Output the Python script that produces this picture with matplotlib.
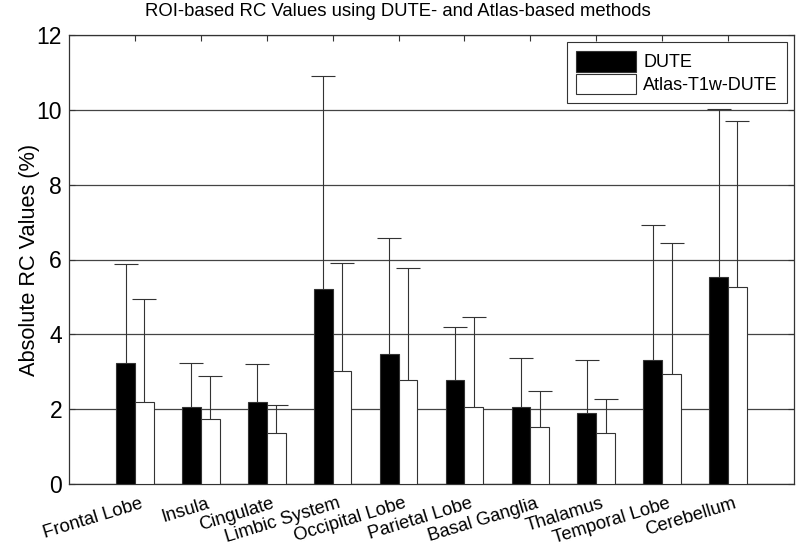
import matplotlib
matplotlib.use("Agg")
import matplotlib.pyplot as plt
import matplotlib.transforms as mtransforms
import numpy as np

plt.rcParams['font.family'] = ['Liberation Sans', 'DejaVu Sans']

categories = ["Frontal Lobe", "Insula", "Cingulate", "Limbic System", "Occipital Lobe",
              "Parietal Lobe", "Basal Ganglia", "Thalamus", "Temporal Lobe", "Cerebellum"]
dute = [3.24, 2.05, 2.19, 5.22, 3.48, 2.77, 2.05, 1.89, 3.32, 5.53]
atlas = [2.19, 1.73, 1.35, 3.02, 2.77, 2.05, 1.52, 1.35, 2.93, 5.27]
dute_err_top = [5.87, 3.24, 3.20, 10.90, 6.58, 4.19, 3.36, 3.32, 6.93, 10.03]
atlas_err_top = [4.95, 2.89, 2.10, 5.90, 5.77, 4.46, 2.48, 2.26, 6.43, 9.71]

dute_err = [t - v for t, v in zip(dute_err_top, dute)]
atlas_err = [t - v for t, v in zip(atlas_err_top, atlas)]

fig = plt.figure(figsize=(8, 5.51), dpi=100)
ax = fig.add_axes([69/800, 1 - 484/551, (794-69)/800, (484-35)/551])

x = np.arange(1, len(categories) + 1)
w = 0.285
edge = '#333333'
ax.bar(x - w/2, dute, w, color='black', edgecolor=edge, linewidth=0.8, label='DUTE', zorder=3)
ax.bar(x + w/2, atlas, w, color='white', edgecolor=edge, linewidth=0.8, label='Atlas-T1w-DUTE', zorder=3)
for xs, vals, errs in [(x - w/2, dute, dute_err), (x + w/2, atlas, atlas_err)]:
    eb = ax.errorbar(xs, vals, yerr=[np.zeros(len(vals)), errs], fmt='none',
                     ecolor=edge, elinewidth=0.8, capsize=8.5, capthick=0.8, zorder=2.5)
    for cl in eb[1]:
        if np.allclose(cl.get_ydata(), vals):
            cl.set_visible(False)

ax.set_xlim(0, 11)
ax.set_ylim(0, 12)
ax.set_yticks(np.arange(0, 13, 2))
ax.set_xticks(x)
ax.set_xticklabels(categories, rotation=17, ha='right', va='top', rotation_mode='anchor', fontsize=13.2)
ax.tick_params(axis='y', labelsize=16.5, direction='in', length=4, right=True, color=edge, pad=5)
ax.tick_params(axis='x', direction='in', length=4, top=True, color=edge, pad=8)
offset = mtransforms.ScaledTranslation(5/100, 0, fig.dpi_scale_trans)
for lbl in ax.get_xticklabels():
    lbl.set_transform(lbl.get_transform() + offset)
ax.grid(axis='y', color='#444444', linewidth=0.9, zorder=0)
ax.set_axisbelow(True)
for s in ax.spines.values():
    s.set_color(edge)
    s.set_linewidth(0.9)

ax.set_ylabel('Absolute RC Values (%)', fontsize=15.7)
ax.yaxis.set_label_coords(-29/725, 0.5)
fig.suptitle('ROI-based RC Values using DUTE- and Atlas-based methods', fontsize=13.3, x=0.497, y=0.995)

leg = ax.legend(loc='upper right', fontsize=13, fancybox=False, edgecolor=edge,
                handlelength=3.3, handleheight=1.35, handletextpad=0.4, borderpad=0.5,
                labelspacing=0.12, borderaxespad=0.4, framealpha=1)
leg.get_frame().set_linewidth(0.8)
leg.set_zorder(2)

fig.savefig('out.png', dpi=100)
